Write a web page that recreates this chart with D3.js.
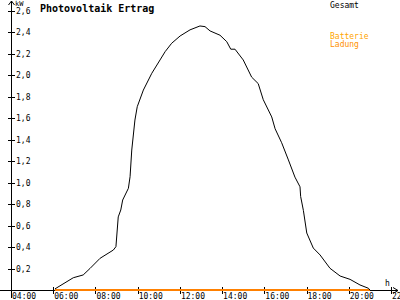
<!DOCTYPE html>
<html>
<head>
<meta charset="utf-8">
<script src="https://cdn.jsdelivr.net/npm/d3@7"></script>
<style>
  body { margin: 0; background: #fff; }
  svg { display: block; }
  text { font-family: "DejaVu Sans Mono", monospace; }
</style>
</head>
<body>
<svg id="chart"></svg>
<script>
// hours of day and kW
const hours = [6.08, 6.95, 7.42, 7.74, 8.22, 8.85, 8.97, 9.08, 9.2, 9.29, 9.56, 9.64, 9.72, 9.87, 9.98,
  10.27, 10.67, 11.06, 11.3, 11.61, 12.01, 12.48, 12.95, 13.19, 13.43, 13.9, 14.22, 14.41, 14.61,
  15.0, 15.4, 15.71, 15.95, 16.35, 16.51, 16.82, 17.14, 17.45, 17.69, 17.72, 17.85, 18.01, 18.32,
  18.64, 19.11, 19.59, 20.06, 20.53, 20.93, 21.0];
const gesamt = [0.01, 0.114, 0.14, 0.2, 0.295, 0.372, 0.403, 0.68, 0.744, 0.837, 0.946, 1.054, 1.302, 1.581, 1.705,
  1.86, 2.016, 2.14, 2.217, 2.295, 2.363, 2.42, 2.456, 2.45, 2.41, 2.37, 2.31, 2.24, 2.24,
  2.14, 1.98, 1.92, 1.77, 1.61, 1.5, 1.37, 1.21, 1.05, 0.96, 0.87, 0.74, 0.53, 0.39,
  0.326, 0.202, 0.13, 0.099, 0.047, 0.016, 0];
const batteryHours = [6.08, 21.0];
const batteryValues = [0, 0];
const xTicks = [4, 6, 8, 10, 12, 14, 16, 18, 20, 22];
const yTicks = [0.2, 0.4, 0.6, 0.8, 1.0, 1.2, 1.4, 1.6, 1.8, 2.0, 2.2, 2.4, 2.6];

const width = 400;
const height = 300;
const svg = d3.select("#chart").attr("width", width).attr("height", height);

const x = d3.scaleLinear().domain([4, 22]).range([11, 391]);
const y = d3.scaleLinear().domain([0, 2.6]).range([290, 10.5]);
const fmt = (v) => d3.format(".1f")(v).replace(".", ",");

const axes = svg.append("g").attr("shape-rendering", "crispEdges").attr("stroke", "#000");

// y axis with arrow
axes.append("line").attr("x1", 11.5).attr("x2", 11.5).attr("y1", 298).attr("y2", 1);
svg.append("path").attr("d", "M8.5,5 L11.5,1 L14.5,5").attr("fill", "none").attr("stroke", "#000");
// x axis with arrow
axes.append("line").attr("x1", 0).attr("x2", 398).attr("y1", 290.5).attr("y2", 290.5);
svg.append("path").attr("d", "M393,287.5 L398,290.5 L393,293.5").attr("fill", "none").attr("stroke", "#000");

// y ticks
axes.selectAll(".yt").data(yTicks).join("line")
  .attr("x1", 8).attr("x2", 15)
  .attr("y1", (d) => Math.round(y(d)) + 0.5).attr("y2", (d) => Math.round(y(d)) + 0.5);
svg.selectAll(".yl").data(yTicks).join("text")
  .attr("x", 16).attr("y", (d) => Math.round(y(d)) + 3)
  .attr("font-size", 8).text(fmt);

// x ticks (last label runs off the edge, as in the original)
axes.selectAll(".xt").data(xTicks).join("line")
  .attr("x1", (d) => Math.round(x(d)) + 0.5).attr("x2", (d) => Math.round(x(d)) + 0.5)
  .attr("y1", 287).attr("y2", 294);
svg.selectAll(".xl").data(xTicks).join("text")
  .attr("x", (d) => x(d) + 1).attr("y", 299)
  .attr("font-size", 8).text((d) => d3.format("02d")(d) + ":00");

// axis units
svg.append("text").attr("x", 15).attr("y", 6).attr("font-size", 7).text("kW");
svg.append("text").attr("x", 385).attr("y", 286).attr("font-size", 8).text("h");

// title and legend
svg.append("text").attr("x", 40).attr("y", 12).attr("font-size", 10)
  .attr("font-weight", "bold").text("Photovoltaik Ertrag");
svg.append("text").attr("x", 330).attr("y", 8).attr("font-size", 8).text("Gesamt");
svg.append("text").attr("x", 330).attr("y", 39).attr("font-size", 8).attr("fill", "#ffa500").text("Batterie");
svg.append("text").attr("x", 330).attr("y", 47).attr("font-size", 8).attr("fill", "#ff9000").text("Ladung");

const line = d3.line().x((d) => x(d[0])).y((d) => y(d[1]));

// battery charge (orange) along the baseline
svg.append("path")
  .datum(d3.zip(batteryHours, batteryValues))
  .attr("d", line)
  .attr("fill", "none").attr("stroke", "#ff8000").attr("stroke-width", 2);

// total yield
svg.append("path")
  .datum(d3.zip(hours, gesamt))
  .attr("d", line)
  .attr("fill", "none").attr("stroke", "#000").attr("stroke-width", 1);
</script>
</body>
</html>
